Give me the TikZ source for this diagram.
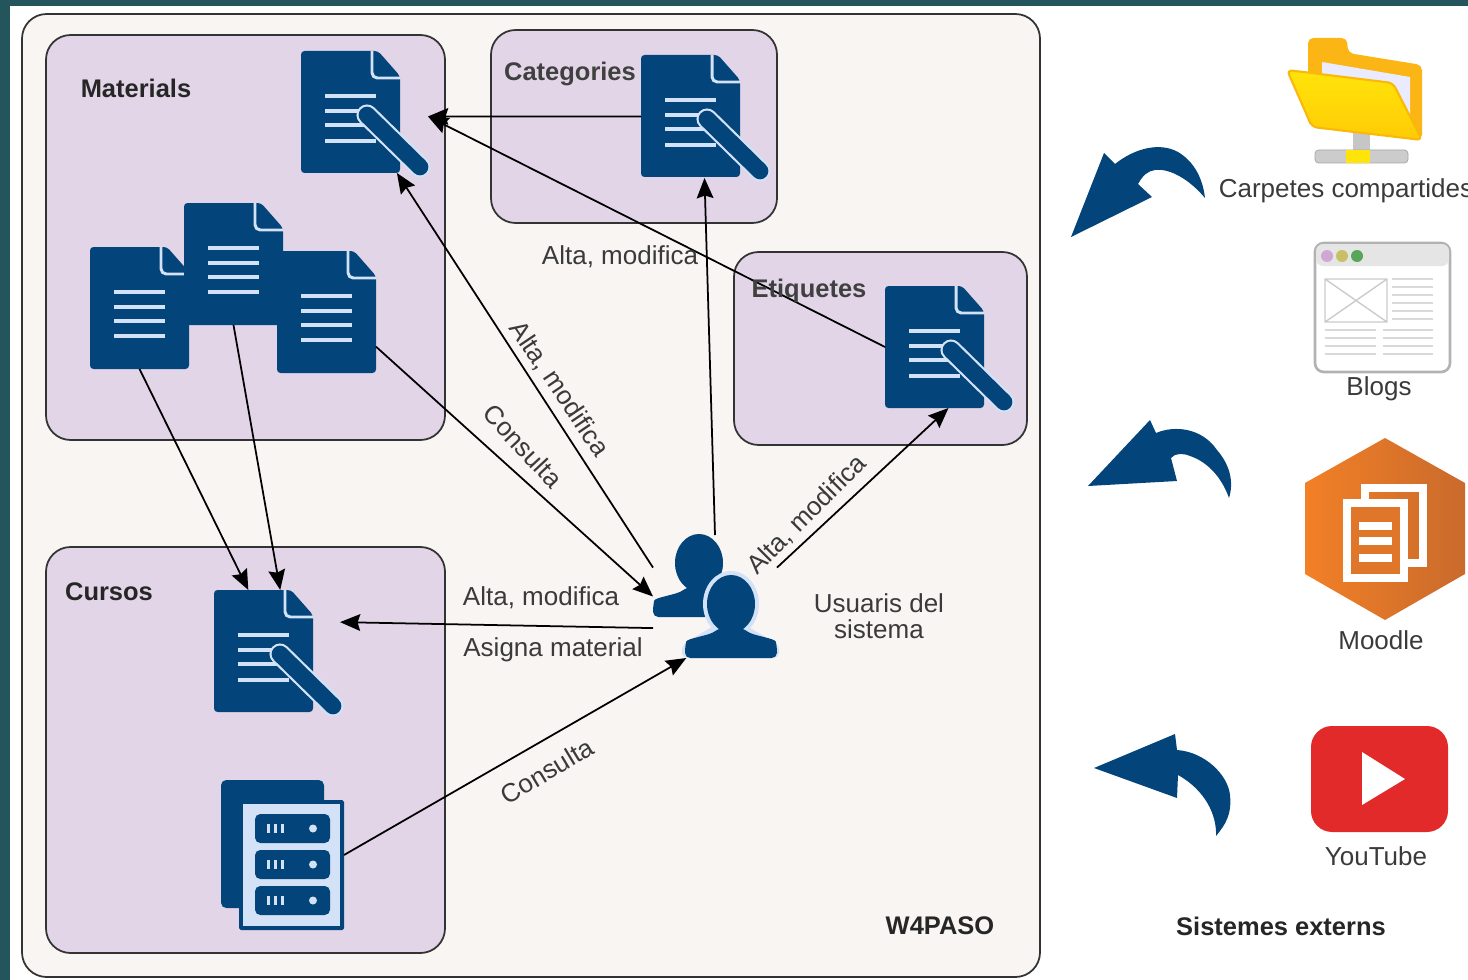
\documentclass[tikz,border=0pt]{standalone}
\usepackage{fontspec}
\setmainfont{Liberation Sans}
\usepackage{xcolor}
\usetikzlibrary{arrows.meta,fit,positioning}

\definecolor{bandteal}{HTML}{24545C}
\definecolor{panelback}{HTML}{F8F5F3}
\definecolor{panellilac}{HTML}{E1D5E7}
\definecolor{panelline}{HTML}{333333}
\definecolor{iconblue}{HTML}{03447A}
\definecolor{iconhalo}{HTML}{D3E2F6}
\definecolor{lblgray}{HTML}{3A3A3A}
\definecolor{moodleleft}{HTML}{F28026}
\definecolor{moodleright}{HTML}{C96A2C}
\definecolor{moodlepage}{HTML}{E0762A}
\definecolor{tubered}{HTML}{E22A2A}
\definecolor{folderback}{HTML}{FBB515}
\definecolor{folderline}{HTML}{F9B80A}
\definecolor{foldertop}{HTML}{FFE40A}
\definecolor{folderbottom}{HTML}{FFCB05}

\tikzset{
	outerpanel/.style={draw=panelline, fill=panelback, line width=1pt, rounded corners=14pt},
	panel/.style={draw=panelline, fill=panellilac, line width=1pt, rounded corners=14pt},
	iconbox/.style={inner sep=0pt, outer sep=0pt},
	lbl/.style={font=\fontsize{14.8}{15}\selectfont, text=lblgray, inner sep=0pt},
	boldlbl/.style={font=\fontsize{14.5}{19}\selectfont\bfseries, text=black!85, inner sep=0pt},
	flow/.style={draw=black, line width=1pt, -{Stealth[length=11.5pt,width=9.5pt,inset=1.5pt]}},
	textline/.style={draw=iconhalo, line width=2pt},
	docbody/.pic={
		\fill[iconblue, rounded corners=2pt] (0,122) -- (0,0) -- (77,0) -- (99,25) [rounded corners=2pt] -- (99,122) -- cycle;
		\draw[iconhalo, line width=1.7pt, rounded corners=3pt] (71,0) -- (71,27) -- (99,27);
	},
	docplain/.pic={
		\pic at (0,0) {docbody};
		\foreach \y in {45,60,74,89} {
			\draw[textline] (24,\y) -- (75,\y);
		}
	},
	docsearch/.pic={
		\pic at (0,0) {docbody};
		\foreach \y in {45,60,74,90} {
			\draw[textline] (24,\y) -- (75,\y);
		}
		\draw[iconhalo, line width=12pt, line cap=round] (66,64) -- (119,116);
		\draw[iconblue, line width=9.5pt, line cap=round] (66,64) -- (119,116);
	},
	person/.pic={
		\fill[iconblue] (0,0) ellipse (24 and 29);
		\fill[iconblue, rounded corners=3pt] (-46,54) -- (-46,43) .. controls (-44,34) and (-22,32) .. (-12,24) -- (12,24) .. controls (22,32) and (44,34) .. (46,43) -- (46,54) -- cycle;
	},
}

\begin{document}
\begin{tikzpicture}[x=0.02cm, y=-0.02cm] % {{{
	\useasboundingbox (0,0) rectangle (1468,980);
	\fill[bandteal] (0,0) rectangle (1468,6);
	\fill[bandteal] (0,0) rectangle (10,980);

	% Panels {{{
	\draw[outerpanel] (22,14) rectangle (1040,977);
	\draw[panel] (46,35) rectangle (445,440);
	\draw[panel] (491,30) rectangle (777,223);
	\draw[panel] (734,252) rectangle (1027,445);
	\draw[panel] (46,547) rectangle (445,953);
	% }}}

	% Icon places {{{
	\node[iconbox, fit={(301,51) (428,173)}] (matdoc) {};
	\node[iconbox, fit={(90,247) (189,369)}] (docone) {};
	\node[iconbox, fit={(184,203) (283,325)}] (doctwo) {};
	\node[iconbox, fit={(277,251) (376,373)}] (docthree) {};
	\node[iconbox, fit={(641,55) (768,178)}] (catdoc) {};
	\node[iconbox, fit={(885,286) (1012,408)}] (etqdoc) {};
	\node[iconbox, fit={(214,590) (340,713)}] (cursdoc) {};
	\node[iconbox, fit={(221,780) (344,930)}] (server) {};
	\node[iconbox, fit={(653,535) (777,658)}] (users) {};
	% }}}

	% Documents {{{
	\pic at (matdoc.north west) {docsearch};
	\pic at (docone.north west) {docplain};
	\pic at (docthree.north west) {docplain};
	\pic at (doctwo.north west) {docplain};
	\pic at (catdoc.north west) {docsearch};
	\pic at (etqdoc.north west) {docsearch};
	\pic at (cursdoc.north west) {docsearch};
	% }}}

	% Server {{{
	\begin{scope}[shift={(server.north west)}]
		\fill[iconblue, rounded corners=3pt] (0,0) rectangle (103,128);
		\fill[iconblue, rounded corners=1pt] (18,20) rectangle (123,150);
		\fill[iconhalo] (22,24) rectangle (119,146);
		\foreach \y in {34,70,106} {
			\begin{scope}[shift={(0,\y)}]
				\fill[iconblue, rounded corners=3pt] (34,0) rectangle (109,29);
				\foreach \x in {46,53,60} {
					\fill[iconhalo] (\x,10) rectangle (\x+3,19);
				}
				\fill[iconhalo] (92,14.5) circle (4);
			\end{scope}
		}
	\end{scope}
	% }}}

	% Users {{{
	\pic at (699,563) {person};
	\fill[iconhalo] (731,604) ellipse (28 and 33);
	\fill[iconhalo, rounded corners=3pt] (682,658) -- (682,645) -- (715,625) -- (745,625) -- (779,645) -- (779,658) -- cycle;
	\pic at (731,604) {person};
	% }}}

	% Connectors {{{
	\draw[flow] (catdoc.west) -- (matdoc.-4);
	\draw[flow] (etqdoc.west) -- (matdoc.-4);
	\draw[flow] (users.155) -- (matdoc.-62);
	\draw[flow] (docthree.-35) -- (users.west);
	\draw[flow] (users.north) -- (catdoc.south);
	\draw[flow] (users.25) -- (etqdoc.south);
	\draw[flow] (users.207) -- (cursdoc.25);
	\draw[flow] (docone.south) -- (cursdoc.115);
	\draw[flow] (doctwo.south) -- (cursdoc.87);
	\draw[flow] (server.east) -- (users.245);
	% }}}

	% Labels {{{
	\node[boldlbl] (matlabel) at (136,88) {Materials};
	\node[boldlbl, text=black!75] (catlabel) at (570,74) {Categories};
	\node[boldlbl, text=black!75] (etqlabel) at (809,291) {Etiquetes};
	\node[boldlbl] (curlabel) at (109,592) {Cursos};
	\node[boldlbl] (syslabel) at (940,926) {W4PASO};
	\node[boldlbl] (extlabel) at (1281,926) {Sistemes externs};
	\node[lbl] (catalta) at (620,257) {Alta, modifica};
	\node[lbl, rotate=-56] (matalta) at (559,389) {Alta, modifica};
	\node[lbl, rotate=-47] (matcons) at (523,446) {Consulta};
	\node[lbl, rotate=45] (etqalta) at (807,515) {Alta, modifica};
	\node[lbl] (curalta) at (541,598) {Alta, modifica};
	\node[lbl] (curasig) at (553,650) {Asigna material};
	\node[lbl, rotate=31] (curcons) at (547,771) {Consulta};
	\node[lbl, align=center] (userlabel) at (879,616) {Usuaris del\\sistema};
	\node[lbl] (folderlabel) at (1346,191) {Carpetes compartides};
	\node[lbl] (bloglabel) at (1379,389) {Blogs};
	\node[lbl] (moodlelabel) at (1381,640) {Moodle};
	\node[lbl] (tubelabel) at (1376,856) {YouTube};
	% }}}

	% Curved arrows {{{
	\fill[iconblue] (1071,237) -- (1104,153) -- (1115,164) .. controls (1135,148) and (1160,142) .. (1178,152) .. controls (1195,162) and (1203,180) .. (1205,198) .. controls (1190,180) and (1170,168) .. (1155,170) .. controls (1148,171) and (1143,175) .. (1138,184) -- (1152,197) -- cycle;
	\fill[iconblue] (1088,486) -- (1150,420) -- (1156,433) .. controls (1175,425) and (1202,428) .. (1217,450) .. controls (1230,465) and (1234,482) .. (1229,498) .. controls (1222,478) and (1208,462) .. (1190,456) .. controls (1183,453) and (1175,453) .. (1171,458) -- (1177,481) -- cycle;
	\fill[iconblue] (1094,768) -- (1175,734) -- (1177,750) .. controls (1205,752) and (1228,775) .. (1230,795) .. controls (1232,815) and (1225,825) .. (1216,836) .. controls (1217,815) and (1205,790) .. (1178,775) -- (1177,798) -- cycle;
	% }}}

	% Folder {{{
	\fill[folderback, rounded corners=3pt] (1308,125) -- (1308,38) -- (1347,38) -- (1348,53) -- (1422,65) -- (1422,140) -- cycle;
	\fill[white!92!blue] (1322,62) -- (1410,77) -- (1410,120) -- (1322,100) -- cycle;
	\fill[gray!45] (1353,130) rectangle (1370,152);
	\draw[gray!70, fill=gray!40, rounded corners=2pt] (1315,150) rectangle (1408,163);
	\fill[foldertop] (1346,150) rectangle (1370,163);
	\draw[folderline, line width=1.2pt, top color=foldertop, bottom color=folderbottom, line join=round, rounded corners=3pt] (1287,70) -- (1393,83) -- (1422,140) -- (1312,127) -- cycle;
	% }}}

	% Blog window {{{
	\draw[gray!60, fill=white, line width=1.5pt, rounded corners=5pt] (1315,243) rectangle (1450,372);
	\fill[gray!20, rounded corners=4pt] (1316,244) rectangle (1449,266);
	\fill[violet!35] (1327,256) circle (6);
	\fill[olive!50] (1342,256) circle (6);
	\fill[green!30!gray] (1357,256) circle (6);
	\draw[gray!40, line width=0.8pt] (1325,279) rectangle (1387,322) (1325,279) -- (1387,322) (1325,322) -- (1387,279);
	\foreach \y in {279,287,295,303,311,319} {
		\draw[gray!30, line width=0.7pt] (1392,\y) -- (1433,\y);
	}
	\foreach \y in {330,338,346,354} {
		\draw[gray!30, line width=0.7pt] (1325,\y) -- (1376,\y);
		\draw[gray!30, line width=0.7pt] (1383,\y) -- (1433,\y);
	}
	% }}}

	% Moodle {{{
	\shade[left color=moodleleft, right color=moodleright] (1385,438) -- (1465,483) -- (1465,574) -- (1385,620) -- (1305,574) -- (1305,483) -- cycle;
	\draw[white, line width=4.5pt] (1365,488) rectangle (1423,563);
	\fill[moodlepage] (1347,503) rectangle (1404,578);
	\draw[white, line width=4.5pt] (1347,503) rectangle (1404,578);
	\foreach \y in {526,541,558} {
		\draw[white, line width=4pt] (1359,\y) -- (1392,\y);
	}
	% }}}

	% YouTube {{{
	\fill[tubered, rounded corners=12pt] (1311,726) rectangle (1448,832);
	\fill[white] (1362,752) -- (1405,779) -- (1362,805) -- cycle;
	% }}}
\end{tikzpicture} % }}}
\end{document}
